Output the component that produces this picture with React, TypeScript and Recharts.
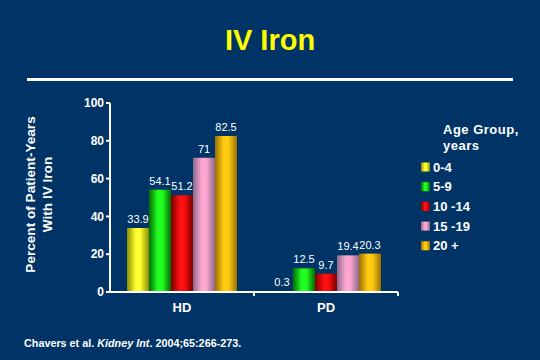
import React from 'react';
import { BarChart, Bar, XAxis, YAxis, LabelList, Legend } from 'recharts';

const categories = ['HD', 'PD'];
const ageGroups = ['0-4', '5-9', '10 -14', '15 -19', '20 +'];
const age0to4 = [33.9, 0.3];
const age5to9 = [54.1, 12.5];
const age10to14 = [51.2, 9.7];
const age15to19 = [71, 19.4];
const age20plus = [82.5, 20.3];
const yTicks = [0, 20, 40, 60, 80, 100];

const seriesValues = [age0to4, age5to9, age10to14, age15to19, age20plus];
const keys = ['g0', 'g1', 'g2', 'g3', 'g4'];

const data = categories.map((name, i) => {
    const row: any = { name };
    keys.forEach((k, s) => (row[k] = seriesValues[s][i]));
    return row;
});

// light centre / dark edge for the cylinder look
const barColors = [
    { light: '#ffff33', dark: '#8c8c00' },
    { light: '#22ff22', dark: '#006e00' },
    { light: '#ff1010', dark: '#7a0000' },
    { light: '#ffa6d2', dark: '#8a6a8a' },
    { light: '#ffcc10', dark: '#9a7000' },
];

const FONT = '"Liberation Sans", Arial, sans-serif';
const BG = '#003366';

const XTick = ({ x, y, payload }: any) => {
    const edge = x + (payload.offset || 0);
    return (
        <g>
            <line x1={edge} x2={edge} y1={y - 4} y2={y} stroke="#fff" strokeWidth={2} />
            <text x={x} y={y + 16} textAnchor="middle" fill="#fff" fontSize={13} fontWeight="bold" fontFamily={FONT}>
                {payload.value}
            </text>
        </g>
    );
};

const YLabel = ({ viewBox }: any) => {
    const cy = viewBox.y + viewBox.height / 2 - 3;
    return (
        <g fill="#fff" fontSize={13.6} fontWeight="bold" fontFamily={FONT} textAnchor="middle">
            <text x={35} y={cy} transform={`rotate(-90, 35, ${cy})`}>Percent of Patient-Years</text>
            <text x={52} y={cy} transform={`rotate(-90, 52, ${cy})`}>With IV Iron</text>
        </g>
    );
};

const AgeLegend = () => (
    <svg width={125} height={150} style={{ display: 'block' }}>
        <g fill="#fff" fontWeight="bold" fontFamily={FONT} fontSize={13}>
            <text x={28} y={24} letterSpacing={0.5}>Age Group,</text>
            <text x={28} y={40} letterSpacing={0.5}>years</text>
            {ageGroups.map((g, i) => {
                const cy = 57 + i * 19.7;
                return (
                    <g key={g}>
                        <rect x={6} y={cy - 4.5} width={9} height={9} fill={`url(#grad${i})`} />
                        <text x={18} y={cy + 4.5}>{g}</text>
                    </g>
                );
            })}
        </g>
    </svg>
);

export default function App() {
    return (
        <div style={{ position: 'absolute', left: 0, top: 0, width: 540, height: 360, background: BG, overflow: 'hidden' }}>
            <svg width={540} height={360} style={{ position: 'absolute', left: 0, top: 0 }}>
                <text x={270} y={50} textAnchor="middle" fill="#ffff00" fontSize={29} fontWeight="bold" fontFamily={FONT}>
                    IV Iron
                </text>
                <rect x={27} y={78} width={486} height={3} fill="#fff" />
                <text x={24} y={347} fill="#fff" fontSize={10.8} fontWeight="bold" fontFamily={FONT}>
                    Chavers et al. <tspan fontStyle="italic">Kidney Int</tspan>. 2004;65:266-273.
                </text>
            </svg>
            <div style={{ position: 'absolute', left: 0, top: 0 }}>
                <BarChart
                    width={540}
                    height={360}
                    data={data}
                    margin={{ top: 103, right: 142, bottom: 38, left: 50 }}
                    barCategoryGap={17}
                    barGap={0}
                >
                    <defs>
                        {barColors.map((c, i) => (
                            <linearGradient key={i} id={`grad${i}`} x1="0" y1="0" x2="1" y2="0">
                                <stop offset="0%" stopColor={c.dark} />
                                <stop offset="40%" stopColor={c.light} />
                                <stop offset="60%" stopColor={c.light} />
                                <stop offset="100%" stopColor={c.dark} />
                            </linearGradient>
                        ))}
                    </defs>
                    <XAxis
                        dataKey="name"
                        stroke="#fff"
                        strokeWidth={2}
                        tickLine={false}
                        tickSize={4}
                        tickMargin={0}
                        tick={<XTick />}
                    />
                    <YAxis
                        domain={[0, 100]}
                        ticks={yTicks}
                        stroke="#fff"
                        strokeWidth={2}
                        tickSize={4}
                        tick={{ fill: '#fff', fontSize: 12, fontWeight: 'bold', fontFamily: FONT }}
                        label={{ content: <YLabel /> }}
                    />
                    <Legend
                        layout="horizontal"
                        verticalAlign="middle"
                        content={<AgeLegend />}
                        wrapperStyle={{ position: 'absolute', left: 415, top: 110, width: 125, height: 150 }}
                    />
                    {keys.map((k, i) => (
                        <Bar key={k} dataKey={k} name={ageGroups[i]} fill={`url(#grad${i})`} isAnimationActive={false}>
                            <LabelList dataKey={k} position="top" offset={5} fill="#fff" fontSize={11} fontFamily={FONT} />
                        </Bar>
                    ))}
                </BarChart>
            </div>
        </div>
    );
}
